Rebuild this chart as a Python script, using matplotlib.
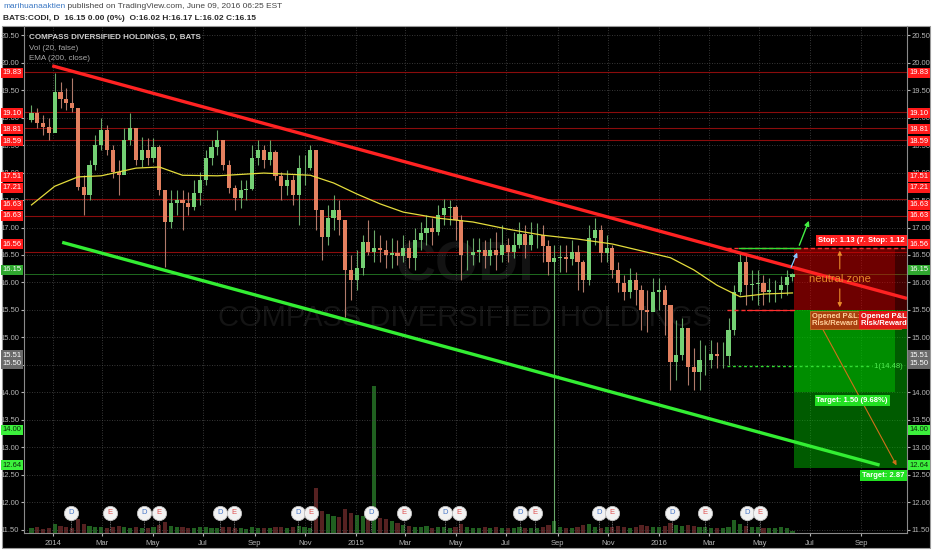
import matplotlib.pyplot as plt
import matplotlib.dates as mdates
import matplotlib.transforms as mtrans
import numpy as np
import pandas as pd
from matplotlib.patches import Rectangle

plt.rcParams['font.family'] = ['Liberation Sans Narrow', 'Liberation Sans', 'DejaVu Sans']

# weekly candles (week ending dates)
week_end = pd.date_range('2013-12-06', periods=132, freq='7D')
first_open = 18.95
close = [19.08, 18.90, 18.83, 18.72, 19.46, 19.34, 19.26, 19.17, 17.74, 17.59,
         18.14, 18.50, 18.77, 18.41, 18.01, 17.95, 18.59, 18.81, 18.23, 18.41,
         18.26, 18.46, 17.68, 17.10, 17.45, 17.50, 17.45, 17.37, 17.63, 17.86,
         18.26, 18.46, 18.59, 18.14, 17.72, 17.54, 17.68, 17.70, 18.26, 18.41,
         18.23, 18.37, 17.94, 17.75, 17.86, 17.59, 18.08, 18.08, 18.41, 17.32,
         16.83, 17.17, 17.32, 17.14, 16.23, 16.05, 16.26, 16.74, 16.55, 16.63,
         16.59, 16.50, 16.54, 16.48, 16.63, 16.45, 16.77, 16.90, 16.99, 16.92,
         17.23, 17.35, 17.37, 17.14, 16.50, 16.50, 16.55, 16.59, 16.48, 16.59,
         16.50, 16.68, 16.55, 16.68, 16.88, 16.68, 16.86, 16.86, 16.66, 16.37,
         16.45, 16.46, 16.43, 16.55, 16.37, 16.05, 16.81, 16.95, 16.54, 16.63,
         16.23, 15.99, 15.83, 16.05, 15.86, 15.50, 15.46, 15.83, 15.86, 15.59,
         14.55, 14.68, 15.17, 14.46, 14.37, 14.59, 14.59, 14.70, 14.66, 14.66,
         15.14, 15.83, 16.37, 15.95, 15.97, 15.99, 15.83, 15.86, 15.86, 15.95,
         16.10, 16.15]
high = [19.23, 19.17, 19.05, 18.99, 19.81, 19.65, 19.54, 19.72, 19.14, 17.95,
        18.23, 18.68, 18.99, 18.86, 18.50, 18.23, 18.81, 19.08, 18.81, 18.65,
        18.63, 18.63, 18.50, 17.68, 17.68, 17.68, 17.68, 17.65, 17.86, 18.01,
        18.41, 18.59, 18.77, 18.59, 18.23, 17.77, 17.86, 17.86, 18.50, 18.59,
        18.50, 18.59, 18.41, 18.01, 18.05, 17.95, 18.32, 18.32, 18.50, 18.41,
        17.32, 17.41, 17.59, 17.50, 17.14, 16.50, 16.59, 16.86, 17.14, 16.95,
        16.86, 16.77, 16.81, 16.77, 16.86, 16.77, 16.99, 17.10, 17.23, 17.17,
        17.41, 17.52, 17.50, 17.41, 17.23, 16.77, 16.81, 16.81, 16.77, 16.81,
        16.92, 17.05, 16.81, 16.92, 17.10, 17.05, 17.10, 17.08, 17.05, 16.77,
        16.68, 16.68, 16.68, 16.77, 16.68, 16.41, 17.05, 17.17, 17.05, 16.86,
        16.68, 16.37, 16.14, 16.26, 16.19, 15.95, 15.86, 16.08, 16.08, 15.95,
        15.14, 15.32, 15.35, 15.14, 14.81, 14.95, 14.86, 14.95, 14.92, 14.92,
        15.35, 15.95, 16.55, 16.50, 16.23, 16.23, 16.14, 16.08, 16.05, 16.12,
        16.23, 16.17]
low = [18.92, 18.81, 18.68, 18.59, 18.77, 19.17, 19.14, 19.10, 17.68, 17.23,
       17.50, 18.05, 18.41, 18.32, 17.90, 17.59, 18.01, 18.50, 18.14, 18.10,
       18.14, 18.19, 17.59, 16.28, 16.99, 17.23, 16.95, 17.23, 17.32, 17.41,
       17.77, 18.14, 18.32, 18.05, 17.63, 17.32, 17.35, 17.50, 17.68, 18.14,
       18.08, 18.14, 17.86, 17.50, 17.59, 17.41, 17.05, 17.77, 18.05, 16.95,
       16.41, 16.68, 16.95, 16.86, 15.37, 15.68, 15.86, 16.14, 16.50, 16.37,
       16.37, 16.26, 16.26, 16.32, 16.37, 16.26, 16.23, 16.59, 16.68, 16.68,
       16.86, 17.05, 17.05, 16.77, 16.05, 16.23, 16.32, 16.37, 16.26, 16.32,
       16.23, 16.37, 16.37, 16.45, 16.63, 16.45, 16.59, 16.63, 16.37, 16.14,
       11.00, 16.19, 16.19, 16.32, 15.86, 15.83, 15.95, 16.68, 16.37, 16.37,
       16.08, 15.83, 15.68, 15.72, 15.59, 15.14, 15.10, 15.59, 15.50, 15.05,
       14.05, 14.23, 14.59, 14.14, 14.05, 14.05, 14.32, 14.45, 14.45, 14.45,
       14.50, 15.05, 15.77, 15.59, 15.68, 15.59, 15.59, 15.65, 15.65, 15.72,
       15.77, 16.02]
# weekly volume, millions of shares
volume = [0.5, 0.6, 0.4, 0.5, 0.9, 0.7, 0.6, 0.5, 1.4, 0.9,
          0.7, 0.6, 0.6, 0.5, 0.6, 0.7, 0.6, 0.5, 0.6, 0.5,
          0.5, 0.6, 0.8, 1.1, 0.7, 0.6, 0.6, 0.5, 0.5, 0.6,
          0.6, 0.5, 0.5, 0.6, 0.6, 0.5, 0.5, 0.4, 0.6, 0.5,
          0.5, 0.5, 0.6, 0.6, 0.5, 0.6, 0.7, 0.6, 0.5, 4.4,
          2.2, 1.9, 1.7, 1.6, 2.4, 2.0, 1.8, 1.7, 1.6, 14.5,
          1.5, 1.4, 1.2, 1.0, 0.8, 0.7, 0.6, 0.6, 0.7, 0.5,
          0.6, 0.6, 0.5, 0.6, 0.9, 0.6, 0.5, 0.5, 0.6, 0.5,
          0.6, 0.5, 0.5, 0.5, 0.6, 0.5, 0.5, 0.5, 0.6, 0.8,
          1.2, 0.6, 0.5, 0.5, 0.6, 0.8, 0.9, 0.6, 0.5, 0.6,
          0.6, 0.7, 0.6, 0.5, 0.6, 0.8, 0.7, 0.6, 0.6, 0.7,
          1.0, 0.8, 0.7, 0.8, 0.7, 0.6, 0.6, 0.5, 0.5, 0.5,
          0.6, 1.3, 0.9, 0.7, 0.6, 0.6, 0.5, 0.5, 0.5, 0.6,
          0.5, 0.2]

# EMA(200) read at some of the weeks
ema_week = [0, 4, 8, 12, 18, 22, 26, 32, 40, 48, 52, 56, 60, 64, 70, 76,
            82, 88, 94, 100, 106, 110, 114, 118, 122, 126, 131]
ema_val = [17.41, 17.75, 17.92, 17.94, 18.08, 18.10, 17.95, 17.94, 17.99, 17.95,
           17.81, 17.61, 17.43, 17.28, 17.17, 17.10, 16.97, 16.86, 16.79, 16.70,
           16.55, 16.45, 16.23, 15.95, 15.74, 15.79, 15.81]

levels = [19.83, 19.10, 18.81, 18.59, 17.51, 17.21, 16.56]
last_price = 16.15

red_trend_dates = ['2013-12-31', '2016-10-26']
red_trend_vals = [19.94, 15.71]
green_trend_dates = ['2014-01-12', '2016-09-23']
green_trend_vals = [16.73, 12.68]

# short position tools
entry = 15.50
stop_a, target_a = 16.63, 14.00
stop_b, target_b = 16.62, 12.63
pivot_level = 14.48

div_dates = ['2014-01-23', '2014-04-21', '2014-07-21', '2014-10-23', '2015-01-19',
             '2015-04-18', '2015-07-18', '2015-10-21', '2016-01-17', '2016-04-16']
earn_dates = ['2014-03-11', '2014-05-09', '2014-08-07', '2014-11-08', '2015-02-28',
              '2015-05-05', '2015-08-05', '2015-11-05', '2016-02-25', '2016-05-02']

# price-scale tags (text, shown at, box colour, text colour)
tag_text = ['19.83', '19.10', '18.81', '18.59', '17.51', '17.21', '16.63', '16.63',
            '16.56', '16.15', '15.51', '15.50', '14.00', '12.64']
tag_pos = [19.81, 19.08, 18.79, 18.57, 17.92, 17.72, 17.41, 17.21,
           16.70, 16.23, 14.68, 14.52, 13.32, 12.68]
tag_fc = ['#ff1a1a'] * 9 + ['#2fa82f', '#6a6a6a', '#6a6a6a', '#3cf03c', '#3cf03c']
tag_tc = ['white'] * 12 + ['#0a2a0a', '#0a2a0a']

W, H = 932, 550
fig = plt.figure(figsize=(W / 100, H / 100), dpi=100, facecolor='white')
fig.add_artist(Rectangle((2 / W, 2 / H), 928 / W, 522 / H, transform=fig.transFigure,
                         fc='black', ec='#9a9a9a', lw=0.8, zorder=-10))

pos = [24 / W, 17 / H, 883 / W, 507 / H]
ax = fig.add_axes(pos)
axv = fig.add_axes(pos, sharex=ax)
axv.set_zorder(0)
ax.set_zorder(1)
ax.set_facecolor('none')
axv.set_facecolor('none')
axv.axis('off')

dates = mdates.date2num(week_end)
opens = np.array([first_open] + close[:-1])
closes = np.array(close)
up = closes >= opens
body_c = np.where(up, '#74d074', '#e3805f')
wick_c = np.where(up, '#6aa86a', '#b07a6a')

# volume
vol_c = np.where(up, '#226622', '#5c2323')
axv.bar(dates, volume, width=5, color=vol_c, alpha=0.95)
axv.set_ylim(0, 50)

# grid, axes
ax.set_axisbelow(True)
ax.grid(True, color='#4a4a4a', ls=(0, (1, 2)), lw=0.6)
ax.set_xlim(mdates.datestr2num('2013-11-27'), mdates.datestr2num('2016-10-26'))
ax.set_ylim(11.445, 20.664)
ax.set_yticks(np.arange(11.5, 20.51, 0.5))
ax.yaxis.set_major_formatter(plt.FormatStrFormatter('%.2f'))
ax.tick_params(axis='y', left=True, right=True, labelleft=True, labelright=True,
               length=2, pad=1.5, labelsize=5.5, colors='#b4b4b4')
month_ticks = pd.date_range('2014-01-01', '2016-09-01', freq='2MS')
ax.set_xticks(mdates.date2num(month_ticks))
ax.set_xticklabels([str(d.year) if d.month == 1 else d.strftime('%b') for d in month_ticks])
ax.tick_params(axis='x', length=2, pad=3, labelsize=5.5, colors='#b4b4b4')
for s in ['left', 'right', 'bottom']:
    ax.spines[s].set_color('#8a8a8a')
    ax.spines[s].set_linewidth(0.8)
ax.spines['top'].set_visible(False)

# watermark
ax.text(0.499, 0.525, 'CODI', transform=ax.transAxes, ha='center', va='center',
        fontsize=40, fontweight='bold', color='#131313', zorder=0)
ax.text(0.499, 0.424, 'COMPASS DIVERSIFIED HOLDINGS', transform=ax.transAxes,
        ha='center', va='center', fontsize=21, color='#141414', zorder=0)

# horizontal levels
for lv in levels:
    ax.axhline(lv, color='#8a0c0c', lw=0.8, zorder=1)
ax.axhline(last_price, color='#1f6b1f', lw=0.7, zorder=1)

# candles
ax.vlines(dates, low, high, colors=wick_c, lw=0.8, zorder=3)
ax.bar(dates, closes - opens, bottom=opens, width=5.0, color=body_c, zorder=3)

# EMA
ax.plot(dates[ema_week], ema_val, color='#e4dc3c', lw=0.9, zorder=4)

# trend lines
ax.plot(mdates.datestr2num(red_trend_dates), red_trend_vals, color='#ff2222', lw=2.4,
        solid_capstyle='butt', zorder=6)
ax.plot(mdates.datestr2num(green_trend_dates), green_trend_vals, color='#33ee33', lw=2.4,
        solid_capstyle='butt', zorder=6)

# position tools
t0 = mdates.datestr2num('2016-06-12')
ta = mdates.datestr2num('2016-10-12')
tb = mdates.datestr2num('2016-12-31')
for t_end, st, tg in ((ta, stop_a, target_a), (tb, stop_b, target_b)):
    ax.add_patch(Rectangle((t0, entry), t_end - t0, st - entry, fc=(0.85, 0, 0),
                           alpha=0.3, ec='none', zorder=2))
    ax.add_patch(Rectangle((t0, tg), t_end - t0, entry - tg, fc=(0, 0.8, 0),
                           alpha=0.45, ec='none', zorder=2))

d = mdates.datestr2num
ax.plot([d('2016-03-23'), tb], [stop_a, stop_a], color='#ff3030', lw=1.0, ls=(0, (3, 2)), zorder=5)
ax.plot([d('2016-03-23'), t0], [entry, entry], color='#ff3030', lw=1.0, ls=(0, (3, 2)), zorder=5)
ax.plot([d('2016-04-16'), t0], [entry, entry], color='#ff3030', lw=0.8, zorder=5)
ax.plot([d('2016-04-07'), d('2016-06-19')], [stop_a, stop_a], color='#33dd33', lw=1.0, zorder=5)
ax.plot([d('2016-03-23'), d('2016-09-14')], [pivot_level, pivot_level], color='#33dd33',
        lw=1.0, ls=(0, (2, 2)), zorder=5)
ax.text(d('2016-09-14'), pivot_level, ' 1(%.2f)' % pivot_level, color='#55ee55',
        fontsize=5.5, va='center', ha='left', zorder=6)

# arrows
ax.annotate('', xy=(d('2016-07-01'), 17.17), xytext=(d('2016-06-17'), stop_a),
            arrowprops=dict(arrowstyle='-|>', color='#44ee44', lw=1.0, mutation_scale=7), zorder=7)
ax.annotate('', xy=(d('2016-06-17'), 16.59), xytext=(d('2016-06-07'), 16.23),
            arrowprops=dict(arrowstyle='-|>', color='#88c8ff', lw=0.9, mutation_scale=6), zorder=7)
ax.annotate('', xy=(d('2016-10-15'), target_b), xytext=(d('2016-07-04'), entry),
            arrowprops=dict(arrowstyle='-|>', color='#d0701a', lw=0.8, mutation_scale=6), zorder=7)
mid = (entry + stop_a) / 2
ax.text(d('2016-08-06'), mid, 'neutral zone', color='#e88a2a', fontsize=8,
        ha='center', va='center', zorder=7)
ax.annotate('', xy=(d('2016-08-06'), stop_a), xytext=(d('2016-08-06'), mid + 0.13),
            arrowprops=dict(arrowstyle='-|>', color='#e88a2a', lw=0.8, mutation_scale=6), zorder=7)
ax.annotate('', xy=(d('2016-08-06'), entry), xytext=(d('2016-08-06'), mid - 0.13),
            arrowprops=dict(arrowstyle='-|>', color='#e88a2a', lw=0.8, mutation_scale=6), zorder=7)

# tool labels
lab = dict(fontsize=5.5, fontweight='bold', clip_on=True, zorder=8)
ax.annotate('Stop: %.2f (%.2f%%) 113' % (stop_a - entry, (stop_a - entry) / entry * 100),
            (d('2016-07-11'), stop_a), xytext=(0, 3), textcoords='offset points',
            ha='left', va='bottom', color='white',
            bbox=dict(boxstyle='square,pad=0.25', fc='#ff2020', ec='none'), **lab)
ax.annotate('Stop: %.2f (%.2f%%) 112' % (stop_b - entry, (stop_b - entry) / entry * 100),
            (d('2016-09-09'), stop_b), xytext=(0, 3), textcoords='offset points',
            ha='left', va='bottom', color='white',
            bbox=dict(boxstyle='square,pad=0.25', fc='#ff2020', ec='none'), **lab)
ax.annotate('Opened P&L: 0.00\nRisk/Reward Ratio: 1.33', (d('2016-07-04'), entry),
            xytext=(0, -2), textcoords='offset points', ha='left', va='top',
            color='#ffcf9a', linespacing=1.0,
            bbox=dict(boxstyle='square,pad=0.25', fc='#a8400e', ec='#e07030', lw=0.5), **lab)
ax.annotate('Opened P&L: 0.00\nRisk/Reward Ratio: 2.54', (d('2016-08-31'), entry),
            xytext=(0, -2), textcoords='offset points', ha='left', va='top',
            color='white', linespacing=1.0,
            bbox=dict(boxstyle='square,pad=0.25', fc='#e01818', ec='none'), **lab)
ax.annotate('Target: %.2f (%.2f%%)' % (entry - target_a, (entry - target_a) / entry * 100),
            (d('2016-08-21'), target_a), xytext=(0, -3), textcoords='offset points',
            ha='center', va='top', color='white',
            bbox=dict(boxstyle='square,pad=0.25', fc='#22e022', ec='none'), **lab)
ax.annotate('Target: %.2f (%.2f%%)' % (entry - target_b, (entry - target_b) / entry * 100),
            (d('2016-09-02'), target_b), xytext=(0, -3), textcoords='offset points',
            ha='left', va='top', color='white',
            bbox=dict(boxstyle='square,pad=0.25', fc='#22e022', ec='none'), **lab)

# dividends / earnings
bt = mtrans.blended_transform_factory(ax.transData, ax.transAxes)
for dates_list, letter, col in ((div_dates, 'D', '#4a78c8'), (earn_dates, 'E', '#e05050')):
    for ds in dates_list:
        x = d(ds)
        ax.plot([x, x], [0.004, 0.026], transform=bt, color='#8a8a8a', lw=0.6,
                ls=(0, (1, 1)), zorder=7)
        ax.scatter([x], [0.0395], transform=bt, s=105, c='#f2f2f2', edgecolors='#c0c0c0',
                   linewidths=0.6, zorder=8, clip_on=False)
        ax.text(x, 0.0395, letter, transform=bt, ha='center', va='center', fontsize=5.5,
                color=col, zorder=9)

# price-scale tags
bty = mtrans.blended_transform_factory(ax.transAxes, ax.transData)
for txt, y, fc, tc in zip(tag_text, tag_pos, tag_fc, tag_tc):
    for xa, ha in ((-0.0025, 'right'), (1.0025, 'left')):
        ax.text(xa, y, txt, transform=bty, ha=ha, va='center', fontsize=5.5, color=tc,
                bbox=dict(boxstyle='square,pad=0.22', fc=fc, ec='none'),
                clip_on=False, zorder=10)

# chart legend texts
fig.text(29 / W, 1 - 37 / H, 'COMPASS DIVERSIFIED HOLDINGS, D, BATS', fontsize=5.8,
         fontweight='bold', color='#cfcfcf', va='center')
fig.text(29 / W, 1 - 48 / H, 'Vol (20, false)', fontsize=5.8, color='#a8a8a8', va='center')
fig.text(29 / W, 1 - 59 / H, 'EMA (200, close)', fontsize=5.8, color='#a8a8a8', va='center')

# header
h1 = fig.text(3 / W, 1 - 7 / H, 'marihuanaaktien', fontsize=6, color='#3b78c4', va='center')
ax.annotate(' published on TradingView.com, June 09, 2016 06:25 EST', xy=(1, 0.5),
            xycoords=h1, va='center', fontsize=6, color='#444444', annotation_clip=False)
fig.text(3 / W, 1 - 18 / H, 'BATS:CODI, D  16.15 0.00 (0%)  O:16.02 H:16.17 L:16.02 C:16.15',
         fontsize=6, fontweight='bold', color='#2a2a2a', va='center')

fig.savefig('out.png', dpi=100, facecolor=fig.get_facecolor())
